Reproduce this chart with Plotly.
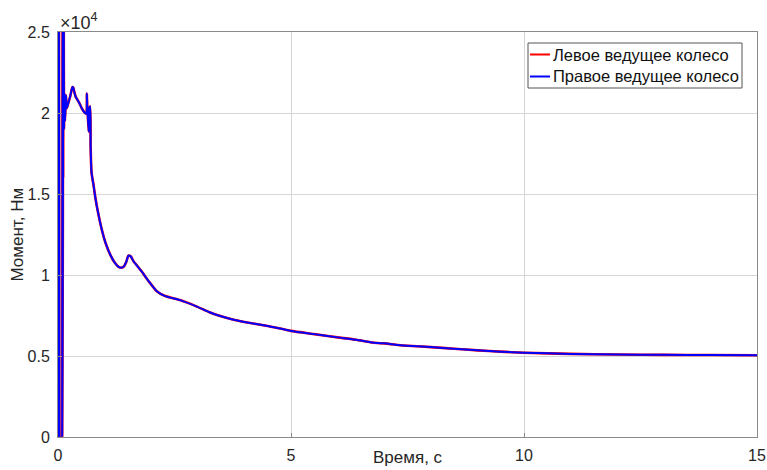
import plotly.graph_objects as go

time_s = [0.0, 0.02, 0.03, 0.05, 0.07, 0.09, 0.10, 0.11, 0.12, 0.13, 0.14, 0.15, 0.17, 0.19,
          0.21, 0.23, 0.26, 0.29, 0.31, 0.33, 0.35, 0.38, 0.40, 0.43, 0.46, 0.50, 0.54,
          0.58, 0.61, 0.62, 0.63, 0.64, 0.66, 0.67, 0.69, 0.70, 0.72, 0.76, 0.80, 0.85,
          0.94, 1.03, 1.13, 1.22, 1.30, 1.36, 1.42, 1.47, 1.51, 1.56, 1.62, 1.69, 1.80,
          1.95, 2.12, 2.30, 2.62, 2.98, 3.25, 3.50, 3.75, 4.00, 4.50, 5.00, 5.50, 6.00,
          6.40, 6.70, 6.85, 7.00, 7.30, 7.60, 8.00, 8.50, 9.00, 9.50, 10.00, 11.00, 12.00,
          13.00, 14.00, 15.00]
right_torque = [0, 30000, 0, 30000, 30000, 0, 30000, 16000, 30000, 19000, 21200, 19500,
                21100, 20300, 20500, 20700, 21000, 21400, 21600, 21550, 21300, 21000,
                20900, 20750, 20600, 20350, 20150, 20000, 19950, 21200, 20100, 19800,
                18850, 20300, 20400, 18000, 16300, 15600, 14800, 14000, 12800, 11900,
                11200, 10750, 10500, 10450, 10550, 10850, 11200, 11150, 10850, 10600,
                10200, 9600, 9000, 8700, 8450, 8050, 7700, 7450, 7250, 7100, 6850, 6550,
                6350, 6150, 6000, 5850, 5800, 5780, 5680, 5620, 5550, 5450, 5350, 5270,
                5200, 5130, 5090, 5070, 5060, 5050]
left_torque = [0, 30000, 0, 30000, 30000, 0, 30000, 16000, 30000, 19000, 21200, 19500,
               21100, 20300, 20500, 20700, 21000, 21400, 21600, 21550, 21300, 21000,
               20900, 20750, 20600, 20350, 20150, 20000, 19950, 21200, 20100, 19800,
               18850, 20300, 20400, 18000, 16300, 15600, 14800, 14000, 12800, 11900,
               11200, 10750, 10500, 10450, 10550, 10850, 11200, 11150, 10850, 10600,
               10200, 9600, 9000, 8700, 8450, 8050, 7700, 7450, 7250, 7100, 6850, 6550,
               6350, 6150, 6000, 5850, 5800, 5780, 5680, 5620, 5550, 5450, 5350, 5270,
               5200, 5130, 5090, 5070, 5060, 5050]
series_names = ["Левое ведущее колесо", "Правое ведущее колесо"]
series_colors = ["#ff0000", "#0000ff"]
x_ticks = [0, 5, 10, 15]
y_ticks = [0, 5000, 10000, 15000, 20000, 25000]
y_tick_labels = ["0", "0.5", "1", "1.5", "2", "2.5"]

font_family = "Arial, Liberation Sans, sans-serif"
text_color = "#262626"

# plot area in pixels
L, R, T, B = 58, 757, 32, 437
W, H = 767, 470
pw, ph = R - L, B - T


def px_x(px):
    return (px - L) / pw


def px_y(py):
    return (B - py) / ph


fig = go.Figure()
fig.add_trace(go.Scatter(x=time_s, y=left_torque, mode="lines", name=series_names[0],
                         line=dict(color=series_colors[0], width=2.6, shape="spline",
                                   smoothing=0.5)))
fig.add_trace(go.Scatter(x=time_s, y=right_torque, mode="lines", name=series_names[1],
                         line=dict(color=series_colors[1], width=2, shape="spline",
                                   smoothing=0.5)))

fig.update_layout(
    width=W, height=H,
    margin=dict(l=L, r=W - R, t=T, b=H - B, autoexpand=False),
    paper_bgcolor="white", plot_bgcolor="white",
    font=dict(family=font_family, size=16, color=text_color),
    showlegend=False,
)
fig.update_xaxes(range=[0, 15], tickvals=x_ticks, showgrid=True, gridcolor="#d6d6d6",
                 gridwidth=1, showline=True, linecolor="#8a8a8a", linewidth=1, mirror=True,
                 zeroline=False, ticks="inside", ticklen=4, tickcolor="#8a8a8a",
                 automargin=False, ticklabelstandoff=4,
                 tickfont=dict(size=16, color=text_color))
fig.update_yaxes(range=[0, 25000], tickvals=y_ticks, ticktext=y_tick_labels, showgrid=True,
                 gridcolor="#d6d6d6", gridwidth=1, showline=True, linecolor="#8a8a8a",
                 linewidth=1, mirror=True, zeroline=False, ticks="inside", ticklen=4,
                 tickcolor="#8a8a8a", automargin=False, ticklabelstandoff=4,
                 tickfont=dict(size=16, color=text_color))

# axis titles
fig.add_annotation(x=0.5, y=0, xref="paper", yref="paper", xanchor="center",
                   yanchor="bottom", yshift=-(H - B) + 1, text="Время, с", showarrow=False,
                   font=dict(size=17, color=text_color))
fig.add_annotation(x=0, y=0.5, xref="paper", yref="paper", xanchor="center",
                   yanchor="middle", xshift=-(L - 17), text="Момент, Нм", textangle=-90,
                   showarrow=False, font=dict(size=17, color=text_color))
# exponent label
fig.add_annotation(x=0, y=1, xref="paper", yref="paper", xanchor="left", yanchor="middle",
                   yshift=(T - 21), xshift=0, text="×10<sup>4</sup>", showarrow=False,
                   font=dict(size=18, color=text_color))

# legend box
fig.add_shape(type="rect", xref="paper", yref="paper", x0=px_x(528), x1=px_x(742),
              y0=px_y(88), y1=px_y(43), line=dict(color="#555555", width=1),
              fillcolor="white", layer="above")
for name, color, ly in zip(series_names, series_colors, [54.5, 76.5]):
    fig.add_shape(type="line", xref="paper", yref="paper", x0=px_x(530), x1=px_x(550),
                  y0=px_y(ly), y1=px_y(ly), line=dict(color=color, width=2), layer="above")
    fig.add_annotation(x=px_x(551), y=px_y(ly), xref="paper", yref="paper", xanchor="left",
                       yanchor="middle", text=name, showarrow=False,
                       font=dict(size=16.5, color="#111111"))

fig.write_html("out.html")
